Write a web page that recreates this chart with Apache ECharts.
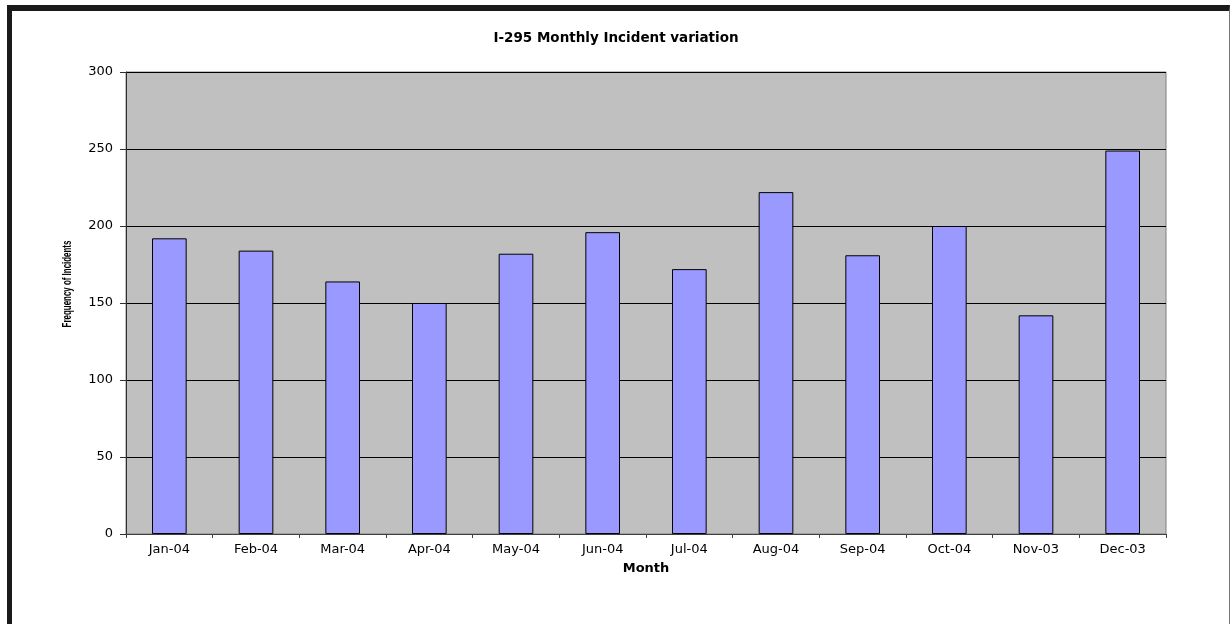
<!DOCTYPE html>
<html>
<head>
<meta charset="utf-8">
<script src="https://cdn.jsdelivr.net/npm/echarts@6/dist/echarts.min.js"></script>
<style>
  html, body { margin: 0; padding: 0; background: #fff; }
  #chart { position: absolute; left: 0; top: 0; width: 1231px; height: 624px; }
  #frame {
    position: absolute; left: 7px; top: 5px; width: 1217px; height: 640px;
    border-left: 5px solid #1a1a1a; border-top: 6px solid #1a1a1a; border-right: 1px solid #777;
    pointer-events: none;
  }
</style>
</head>
<body>
<div id="chart"></div>
<div id="frame"></div>
<script>
// months as they appear on the axis
var months = ['Jan-04', 'Feb-04', 'Mar-04', 'Apr-04', 'May-04', 'Jun-04',
  'Jul-04', 'Aug-04', 'Sep-04', 'Oct-04', 'Nov-03', 'Dec-03']
// incident counts
var incidents = [192, 184, 164, 150, 182, 196, 172, 222, 181, 200, 142, 249]

var wideFont = 'DejaVu Sans, Verdana, sans-serif'

var chart = echarts.init(document.getElementById('chart'))
var option = {
  animation: false,
  backgroundColor: '#fff',
  title: {
    text: 'I-295 Monthly Incident variation',
    left: 611,
    textAlign: 'center',
    top: 26,
    textStyle: {
      fontFamily: wideFont,
      fontSize: 13.5,
      fontWeight: 'bold',
      color: '#000'
    }
  },
  grid: {
    left: 126,
    top: 72,
    right: 65,
    bottom: 90,
    show: true,
    backgroundColor: '#c0c0c0',
    borderColor: '#808080',
    borderWidth: 1
  },
  // y axis name is squeezed like in the original picture
  graphic: [
    {
      type: 'text',
      x: 67.5,
      y: 284,
      rotation: Math.PI / 2,
      scaleX: 0.61,
      style: {
        text: 'Frequency of Incidents',
        font: 'bold 13px Liberation Sans, Arial, sans-serif',
        fill: '#000',
        align: 'center',
        verticalAlign: 'middle'
      }
    }
  ],
  xAxis: {
    type: 'category',
    data: months,
    name: 'Month',
    nameLocation: 'middle',
    nameGap: 28,
    nameTextStyle: {
      fontFamily: wideFont,
      fontSize: 13,
      fontWeight: 'bold',
      color: '#000'
    },
    axisLine: { lineStyle: { color: '#404040', width: 1 } },
    axisTick: { show: true, length: 4, lineStyle: { color: '#404040' } },
    axisLabel: {
      margin: 9,
      fontFamily: wideFont,
      fontSize: 13,
      color: '#000'
    }
  },
  yAxis: {
    type: 'value',
    min: 0,
    max: 300,
    interval: 50,
    axisLine: { show: true, lineStyle: { color: '#303030', width: 1 } },
    axisTick: { show: true, length: 6, lineStyle: { color: '#303030' } },
    axisLabel: {
      margin: 13,
      fontFamily: wideFont,
      fontSize: 13,
      color: '#000'
    },
    splitLine: { show: true, lineStyle: { color: '#000', width: 1 } }
  },
  series: [
    {
      type: 'bar',
      data: incidents,
      barWidth: '40%',
      itemStyle: {
        color: '#9999ff',
        borderColor: '#000',
        borderWidth: 1
      }
    }
  ]
}
chart.setOption(option, true)
</script>
</body>
</html>
